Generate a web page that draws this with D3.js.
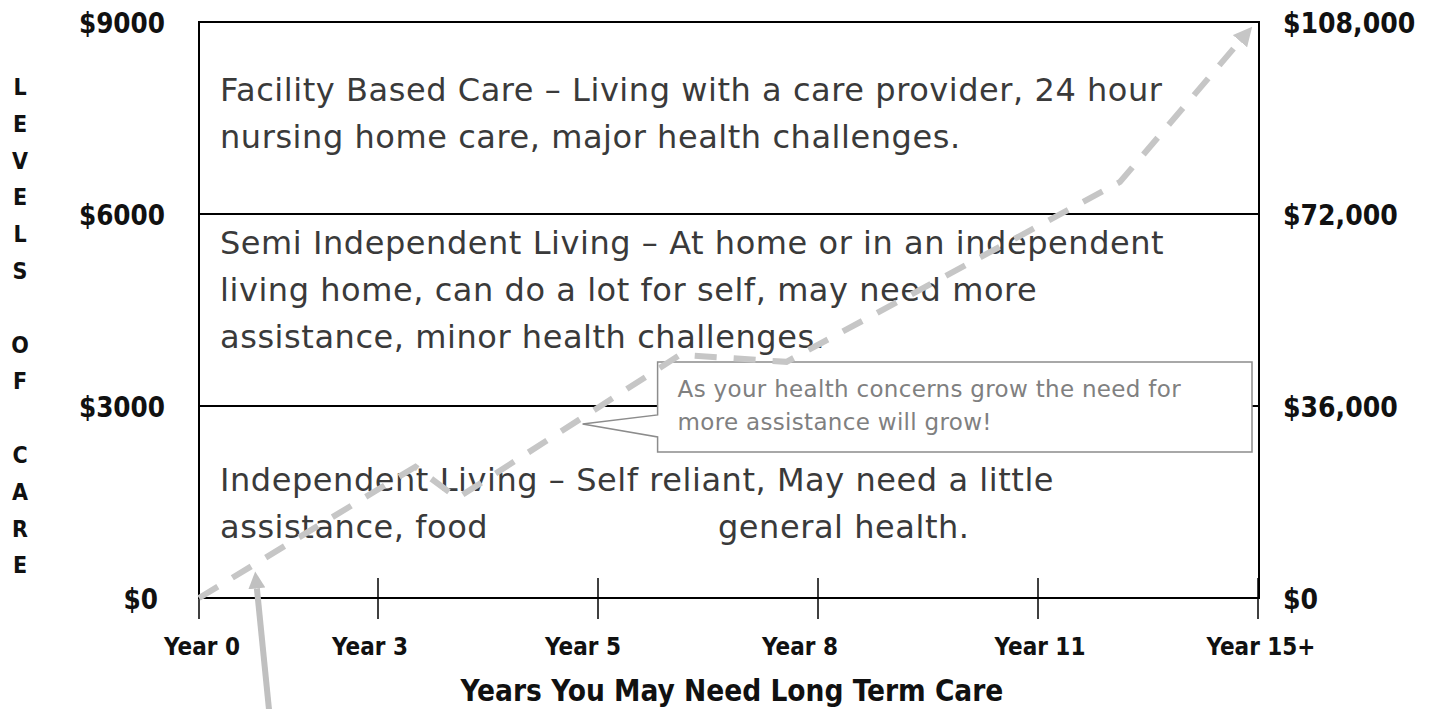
<!DOCTYPE html>
<html>
<head>
<meta charset="utf-8">
<script src="https://cdn.jsdelivr.net/npm/d3@7"></script>
<style>
  body { margin: 0; background: #fff; }
  svg { display: block; }
</style>
</head>
<body>
<div id="chart"></div>
<script>
// ---- data ----
const yearValues = [0, 3, 5, 8, 11, 15];
const yearLabels = ["Year 0", "Year 3", "Year 5", "Year 8", "Year 11", "Year 15+"];
const monthlyTicks = [0, 3000, 6000, 9000];
const monthlyLabels = ["$0", "$3000", "$6000", "$9000"];
const annualTicks = [0, 36000, 72000, 108000];
const annualLabels = ["$0", "$36,000", "$72,000", "$108,000"];
const levelLetters = ["L", "E", "V", "E", "L", "S", "", "O", "F", "", "C", "A", "R", "E"];

// care levels, bottom to top (monthly cost band)
const bandFrom = [0, 3000, 6000];
const bandLines = [
    [["Independent Living \u2013 Self reliant, May need a little"], ["assistance, food", "general health."]],
    [["Semi Independent Living \u2013 At home or in an independent"], ["living home, can do a lot for self, may need more"], ["assistance, minor health challenges."]],
    [["Facility Based Care \u2013 Living with a care provider, 24 hour"], ["nursing home care, major health challenges."]]
];

// rising cost trend (years, monthly $)
const trendYears = [0, 3.34, 3.72, 6.12, 7.57, 12.49, 14.67];
const trendCost = [0, 2050, 1560, 3800, 3690, 6500, 8700];

const calloutLines = ["As your health concerns grow the need for", "more assistance will grow!"];
const calloutAt = { year: 4.86, cost: 2720 };
const pointerTip = { year: 0.97, cost: 400 };
const pointerTail = { year: 1.19, cost: -1900 };

// ---- layout ----
const width = 1436, height = 709;
const plotLeft = 199, plotRight = 1259, plotTop = 22, plotBottom = 598;
const firstGap = 179, gap = 220;
const labelFont = "'DejaVu Sans Condensed', 'DejaVu Sans', sans-serif";
const bodyFont = "'DejaVu Sans', sans-serif";
const labelShift = [3, -8, -15, -18, 2, 3];
const bandFirstBaseline = [85, 40, 79];   // below band top
const lineHeight = 47;
const textLeft = 220, secondSegX = 718;
const bodyWidth = 942;      // width of the longest band line
const calloutWidth = 503;   // width of first callout line

const svg = d3.select("#chart")
    .append("svg")
    .attr("width", width)
    .attr("height", height);

const x = d3.scaleLinear()
    .domain(yearValues)
    .range(yearValues.map((d, i) => i === 0 ? plotLeft : plotLeft + firstGap + (i - 1) * gap));
const y = d3.scaleLinear().domain([0, 9000]).range([plotBottom, plotTop]);
const yRight = d3.scaleLinear().domain([0, 108000]).range([plotBottom, plotTop]);

// letter-spacing so a line reaches a wanted width
function spacingFor(str, size, wanted) {
    const t = svg.append("text")
        .style("font-family", bodyFont)
        .style("font-size", size + "px")
        .text(str);
    const w = t.node().getComputedTextLength();
    t.remove();
    return (wanted - w) / (str.length - 1);
}

const defs = svg.append("defs");
defs.append("marker")
    .attr("id", "trendHead")
    .attr("markerUnits", "userSpaceOnUse")
    .attr("viewBox", "0 0 10 10")
    .attr("refX", 0).attr("refY", 5)
    .attr("markerWidth", 19).attr("markerHeight", 19)
    .attr("orient", "auto")
    .append("path").attr("d", "M0,0 L10,5 L0,10 z").attr("fill", "#c6c6c6");
defs.append("marker")
    .attr("id", "pointerHead")
    .attr("markerUnits", "userSpaceOnUse")
    .attr("viewBox", "0 0 10 10")
    .attr("refX", 0).attr("refY", 5)
    .attr("markerWidth", 17).attr("markerHeight", 17)
    .attr("orient", "auto")
    .append("path").attr("d", "M0,0 L10,5 L0,10 z").attr("fill", "#c0c0c0");

// outer box
svg.append("rect")
    .attr("x", plotLeft).attr("y", plotTop)
    .attr("width", plotRight - plotLeft).attr("height", plotBottom - plotTop)
    .attr("fill", "none").attr("stroke", "#000").attr("stroke-width", 2);

// band dividers
svg.selectAll(".divider")
    .data(monthlyTicks.filter(d => d > 0 && d < 9000))
    .enter().append("line")
    .attr("class", "divider")
    .attr("x1", plotLeft).attr("x2", plotRight)
    .attr("y1", d => y(d)).attr("y2", d => y(d))
    .attr("stroke", "#000").attr("stroke-width", 2);

// x ticks crossing the axis
svg.selectAll(".tick")
    .data(yearValues)
    .enter().append("line")
    .attr("x1", d => x(d)).attr("x2", d => x(d))
    .attr("y1", plotBottom - 20).attr("y2", plotBottom + 21)
    .attr("stroke", "#000").attr("stroke-width", 1.5);

svg.selectAll(".xlabel")
    .data(yearLabels)
    .enter().append("text")
    .attr("x", (d, i) => x(yearValues[i]) + labelShift[i])
    .attr("y", 655)
    .attr("text-anchor", "middle")
    .style("font-family", labelFont)
    .style("font-weight", "bold")
    .style("font-size", "24px")
    .attr("fill", "#111")
    .text(d => d);

svg.append("text")
    .attr("x", 732).attr("y", 701)
    .attr("text-anchor", "middle")
    .style("font-family", labelFont)
    .style("font-weight", "bold")
    .style("font-size", "29.5px")
    .attr("fill", "#111")
    .text("Years You May Need Long Term Care");

// left and right value labels
svg.selectAll(".ylabel")
    .data(monthlyTicks)
    .enter().append("text")
    .attr("x", d => d === 0 ? 158 : 165)
    .attr("y", d => y(d) + 11)
    .attr("text-anchor", "end")
    .style("font-family", labelFont)
    .style("font-weight", "bold")
    .style("font-size", "27.5px")
    .attr("fill", "#111")
    .text((d, i) => monthlyLabels[i]);

svg.selectAll(".rlabel")
    .data(annualTicks)
    .enter().append("text")
    .attr("x", 1283)
    .attr("y", d => yRight(d) + 11)
    .style("font-family", labelFont)
    .style("font-weight", "bold")
    .style("font-size", "28px")
    .attr("fill", "#111")
    .text((d, i) => annualLabels[i]);

// stacked "LEVELS OF CARE"
svg.selectAll(".letter")
    .data(levelLetters)
    .enter().append("text")
    .attr("x", 20)
    .attr("y", (d, i) => 95 + i * 36.8)
    .attr("text-anchor", "middle")
    .style("font-family", labelFont)
    .style("font-weight", "bold")
    .style("font-size", "23px")
    .attr("fill", "#111")
    .text(d => d);

// band descriptions
const bodySize = 32;
const bodySpacing = spacingFor(bandLines[2][0][0], bodySize, bodyWidth);
bandLines.forEach((lines, b) => {
    const bandTop = y(b === 2 ? 9000 : bandFrom[b + 1]);
    lines.forEach((segs, li) => {
        segs.forEach((s, si) => {
            svg.append("text")
                .attr("x", si === 0 ? textLeft : secondSegX)
                .attr("y", bandTop + bandFirstBaseline[b] + li * lineHeight)
                .style("font-family", bodyFont)
                .style("font-size", bodySize + "px")
                .style("letter-spacing", bodySpacing + "px")
                .attr("fill", "#3a3a3a")
                .text(s);
        });
    });
});

// callout
const tipX = x(calloutAt.year), tipY = y(calloutAt.cost);
const boxL = tipX + 75, boxR = 1252, boxT = tipY - 62, boxB = tipY + 28;
svg.append("path")
    .attr("d", `M${boxL},${boxT} H${boxR} V${boxB} H${boxL} V${tipY + 13} L${tipX},${tipY} L${boxL},${tipY - 9} Z`)
    .attr("fill", "#fff")
    .attr("stroke", "#8c8c8c")
    .attr("stroke-width", 1.5);

const calloutSize = 23;
const calloutSpacing = spacingFor(calloutLines[0], calloutSize, calloutWidth);
svg.selectAll(".callout")
    .data(calloutLines)
    .enter().append("text")
    .attr("x", boxL + 20)
    .attr("y", (d, i) => boxT + 35 + i * 33)
    .style("font-family", bodyFont)
    .style("font-size", calloutSize + "px")
    .style("letter-spacing", calloutSpacing + "px")
    .attr("fill", "#808080")
    .text(d => d);

// dashed trend
const trendLine = d3.line()
    .x(d => x(d[0]))
    .y(d => y(d[1]));

svg.append("path")
    .datum(trendYears.map((d, i) => [d, trendCost[i]]))
    .attr("d", trendLine)
    .attr("fill", "none")
    .attr("stroke", "#c6c6c6")
    .attr("stroke-width", 6)
    .attr("stroke-dasharray", "22,17")
    .attr("marker-end", "url(#trendHead)");

// pointer arrow from below
svg.append("line")
    .attr("x1", x(pointerTail.year)).attr("y1", y(pointerTail.cost))
    .attr("x2", x(pointerTip.year)).attr("y2", y(pointerTip.cost) + 16)
    .attr("stroke", "#c0c0c0")
    .attr("stroke-width", 6)
    .attr("marker-end", "url(#pointerHead)");
</script>
</body>
</html>
